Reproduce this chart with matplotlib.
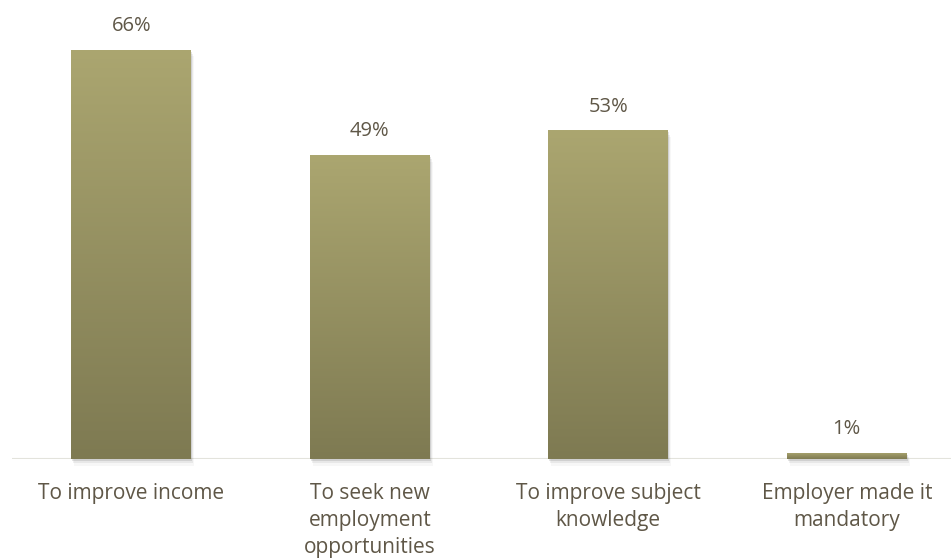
import numpy as np
import matplotlib.pyplot as plt
from matplotlib.patches import Rectangle

# reasons for taking the course, share of respondents (%)
categories = ["To improve income", "To seek new\nemployment\nopportunities",
              "To improve subject\nknowledge", "Employer made it\nmandatory"]
values = [66, 49, 53, 1]

text_color = "#5f5747"
top_color = np.array([0xAB, 0xA6, 0x70]) / 255
bottom_color = np.array([0x7E, 0x7A, 0x52]) / 255

plt.rcParams['font.family'] = ['Open Sans', 'DejaVu Sans']

fig = plt.figure(figsize=(9.51, 5.58), dpi=100)
ax = fig.add_axes([12 / 951, 1 - 459 / 558, 1 - 12 / 951, 459 / 558])

x = np.arange(len(categories))
width = 0.503
xmax = -0.5 + 939 / 238.5

# vertical gradient used to fill every bar
grad = np.linspace(0, 1, 256)[:, None]
grad_rgb = top_color[None, None, :] * (1 - grad[:, :, None]) + bottom_color[None, None, :] * grad[:, :, None]

for xi, v in zip(x, values):
    # soft drop shadow
    for k, a in enumerate([0.10, 0.06, 0.03]):
        off = 0.004 * (k + 1)
        ax.add_patch(Rectangle((xi - width / 2 + off, -0.35 * (k + 1)), width, v,
                               facecolor="#000000", alpha=a, edgecolor="none",
                               zorder=1, clip_on=False))
    bar = Rectangle((xi - width / 2, 0), width, v, facecolor="none",
                    edgecolor="none", zorder=2)
    ax.add_patch(bar)
    im = ax.imshow(grad_rgb, extent=(xi - width / 2, xi + width / 2, 0, v),
                   aspect="auto", zorder=2, interpolation="bilinear")
    im.set_clip_path(bar)
    ax.text(xi, v + 2.2, f"{v}%", ha="center", va="bottom",
            fontsize=14.5, color=text_color)

ax.set_xlim(-0.5, xmax)
ax.set_ylim(0, 74)

ax.axhline(0, color="#e3e3dc", lw=1.5, zorder=0)
for s in ax.spines.values():
    s.set_visible(False)
ax.set_yticks([])
ax.set_xticks(x)
ax.set_xticklabels(categories, fontsize=15, color=text_color, linespacing=1.38)
ax.tick_params(axis="x", length=0, pad=17)

fig.savefig("out.png", dpi=100)
